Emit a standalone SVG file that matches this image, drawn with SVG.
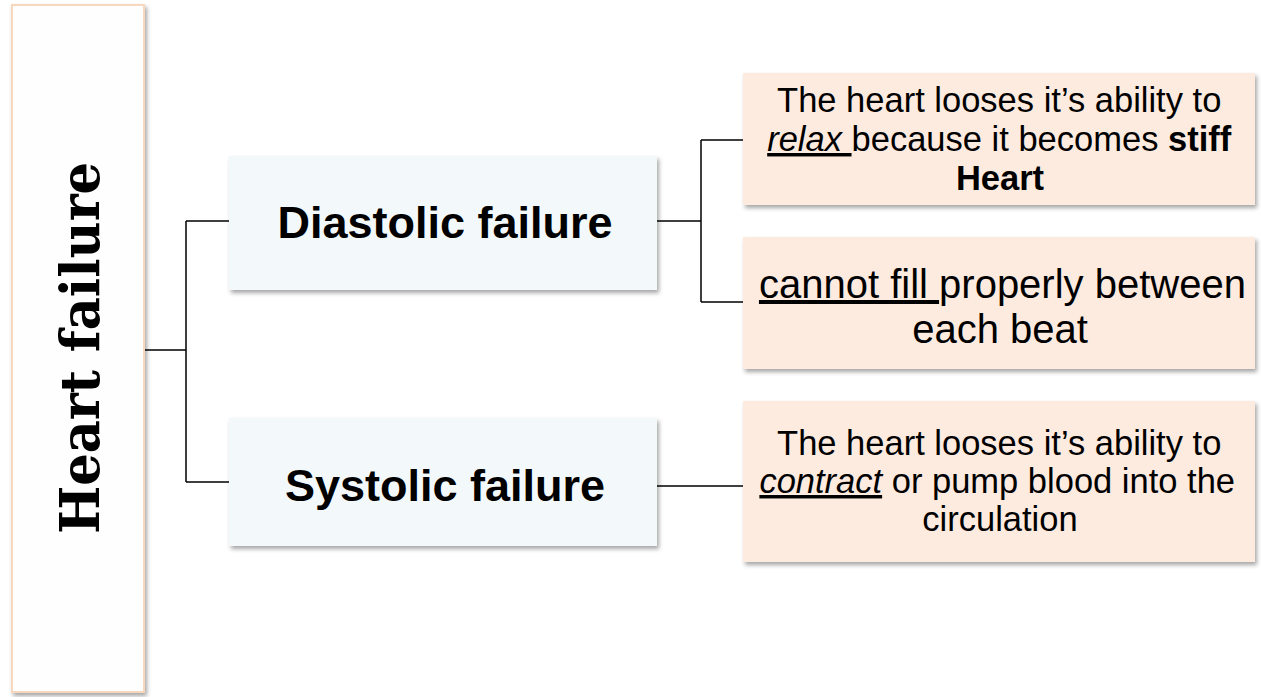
<svg xmlns="http://www.w3.org/2000/svg" width="1261" height="697" viewBox="0 0 1261 697">
  <defs>
    <filter id="shadow" x="-5%" y="-5%" width="112%" height="120%">
      <feDropShadow dx="2" dy="3" stdDeviation="2" flood-color="#000" flood-opacity="0.35"/>
    </filter>
  </defs>
  <style>
    .root { fill: #fefefe; stroke: #f8d8bd; stroke-width: 2; }
    .mid { fill: #f3f8fb; }
    .leaf { fill: #fdebe0; }
    .wire { fill: none; stroke: #000; stroke-width: 1.5; }
    .title { font-family: "DejaVu Serif", "Liberation Serif", serif; font-weight: bold; font-size: 55px; fill: #000; }
    .head { font-family: "Liberation Sans", Arial, sans-serif; font-weight: bold; font-size: 45px; fill: #000; }
    .body { font-family: "Liberation Sans", Arial, sans-serif; font-size: 34.5px; fill: #000; }
    .big { font-size: 40px; }
    .u { text-decoration: underline; }
    .i { font-style: italic; }
    .b { font-weight: bold; }
  </style>

  <!-- connectors -->
  <g id="connectors">
    <path class="wire" d="M144,350 H186 M186,221 V482 M186,221 H229 M186,482 H229"/>
    <path class="wire" d="M657,221 H701 M701,140 V302 M701,140 H743 M701,302 H743"/>
    <path class="wire" d="M657,486 H743"/>
  </g>

  <!-- root node -->
  <g id="heart-failure">
    <rect class="root" x="12" y="5" width="132" height="687" filter="url(#shadow)"/>
    <text class="title" transform="translate(99,348) rotate(-90)" text-anchor="middle" textLength="372" lengthAdjust="spacingAndGlyphs">Heart failure</text>
  </g>

  <!-- branch nodes -->
  <g id="diastolic">
    <rect class="mid" x="229" y="156" width="428" height="134" filter="url(#shadow)"/>
    <text class="head" x="445" y="238" text-anchor="middle">Diastolic failure</text>
  </g>
  <g id="systolic">
    <rect class="mid" x="229" y="418" width="428" height="128" filter="url(#shadow)"/>
    <text class="head" x="445" y="501" text-anchor="middle">Systolic failure</text>
  </g>

  <!-- detail nodes -->
  <g id="relax">
    <rect class="leaf" x="743" y="73" width="512" height="132" filter="url(#shadow)"/>
    <text class="body" x="1003" text-anchor="middle">
      <tspan x="1004" y="112">The heart looses it’s ability to</tspan>
      <tspan x="1004" y="151"><tspan class="i u">relax </tspan>because it becomes <tspan class="b">stiff</tspan></tspan>
      <tspan x="1000" y="190" class="b">Heart</tspan>
    </text>
  </g>
  <g id="fill">
    <rect class="leaf" x="743" y="237" width="512" height="132" filter="url(#shadow)"/>
    <text class="body big" x="1004" text-anchor="middle">
      <tspan x="1008" y="298"><tspan class="u">cannot fill </tspan>properly between</tspan>
      <tspan x="1000" y="343">each beat</tspan>
    </text>
  </g>
  <g id="contract">
    <rect class="leaf" x="743" y="401" width="512" height="161" filter="url(#shadow)"/>
    <text class="body" x="1004" text-anchor="middle">
      <tspan x="1004" y="455">The heart looses it’s ability to</tspan>
      <tspan x="1002" y="493"><tspan class="i u">contract</tspan> or pump blood into the</tspan>
      <tspan x="1000" y="531">circulation</tspan>
    </text>
  </g>
</svg>
